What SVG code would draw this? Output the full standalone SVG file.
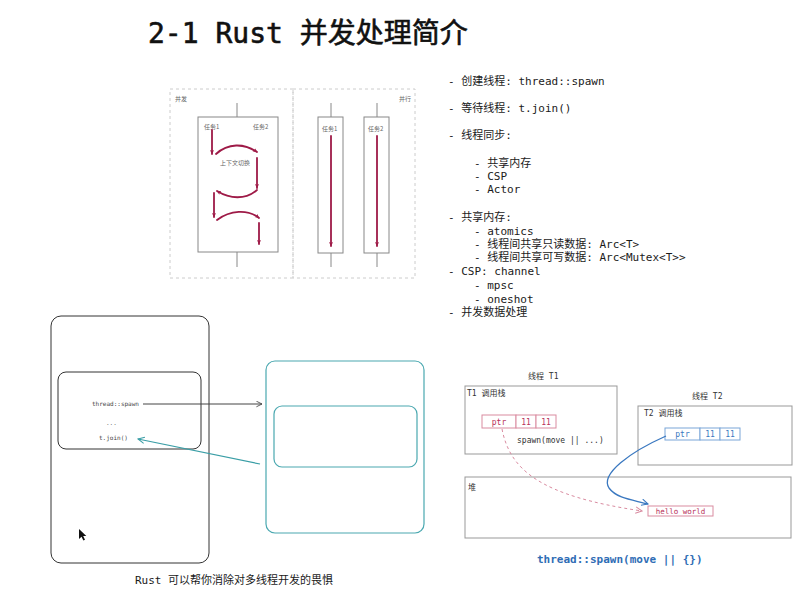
<svg xmlns="http://www.w3.org/2000/svg" width="811" height="603" viewBox="0 0 811 603">
  <defs>
    <marker id="redHead" viewBox="0 0 10 10" refX="8" refY="5" markerWidth="5" markerHeight="5" orient="auto" markerUnits="userSpaceOnUse">
      <path d="M0,1 L9,5 L0,9 L2,5 Z" fill="#9e1a47"/>
    </marker>
    <marker id="grayHead" viewBox="0 0 10 10" refX="9" refY="5" markerWidth="7" markerHeight="7" orient="auto" markerUnits="userSpaceOnUse">
      <path d="M1,1 L9,5 L1,9" fill="none" stroke="#444" stroke-width="1.2"/>
    </marker>
    <marker id="tealHead" viewBox="0 0 10 10" refX="9" refY="5" markerWidth="8" markerHeight="8" orient="auto" markerUnits="userSpaceOnUse">
      <path d="M1,1 L9,5 L1,9" fill="none" stroke="#3a9ea6" stroke-width="1.3"/>
    </marker>
    <marker id="pinkHead" viewBox="0 0 10 10" refX="9" refY="5" markerWidth="8" markerHeight="8" orient="auto" markerUnits="userSpaceOnUse">
      <path d="M1,1 L9,5 L1,9" fill="none" stroke="#d98ba0" stroke-width="1.2"/>
    </marker>
    <marker id="blueHead" viewBox="0 0 10 10" refX="9" refY="5" markerWidth="8" markerHeight="8" orient="auto" markerUnits="userSpaceOnUse">
      <path d="M1,1 L9,5 L1,9" fill="none" stroke="#3a78c0" stroke-width="1.3"/>
    </marker>
  </defs>
  <style>
    .mono { font-family: "DejaVu Sans Mono", "Noto Sans CJK SC", monospace; }
    .sans { font-family: "Noto Sans CJK SC", "Noto Sans", sans-serif; }
    .list { font-size: 11px; fill: #1a1a1a; }
    .tiny { font-size: 6px; fill: #666; }
    .box { fill: none; stroke: #888; stroke-width: 1; }
    .dash { fill: none; stroke: #ccc; stroke-width: 1; stroke-dasharray: 3 3; }
    .red { fill: none; stroke: #9e1a47; stroke-width: 1.8; stroke-linecap: round; }
    .stem { stroke: #888; stroke-width: 1; }
    .frame { fill: none; stroke: #333; stroke-width: 1; }
    .teal { fill: none; stroke: #4aa8b0; stroke-width: 1.2; }
    .gbox { fill: none; stroke: #999; stroke-width: 1; }
    .pcell { fill: #fff; stroke: #d98ba0; stroke-width: 1; }
    .bcell { fill: #fff; stroke: #7aa6d8; stroke-width: 1; }
    .small { font-size: 8px; fill: #333; }
  </style>

  <rect width="811" height="603" fill="#fff"/>

  <!-- title -->
  <text class="mono" x="148" y="43" font-size="28" fill="#111" stroke="#111" stroke-width="0.6">2-1 Rust 并发处理简介</text>

  <!-- concurrency vs parallelism sketch -->
  <g id="concurrency-sketch">
    <rect class="dash" x="170" y="89" width="123" height="189"/>
    <rect class="dash" x="293" y="89" width="122" height="189"/>
    <text class="sans tiny" x="175" y="101">并发</text>
    <text class="sans tiny" x="399" y="101">并行</text>

    <line class="stem" x1="237" y1="103" x2="237" y2="117"/>
    <line class="stem" x1="237" y1="252" x2="237" y2="267"/>
    <rect class="box" x="198" y="117" width="80" height="135"/>
    <text class="sans tiny" x="204" y="129">任务1</text>
    <text class="sans tiny" x="253" y="129">任务2</text>
    <text class="sans tiny" x="220" y="165">上下文切换</text>
    <path class="red" d="M212,130 L212,154" marker-end="url(#redHead)"/>
    <path class="red" d="M216,154 C228,143 244,143 257,152" marker-end="url(#redHead)"/>
    <path class="red" d="M257,158 L257,188" marker-end="url(#redHead)"/>
    <path class="red" d="M257,190 C245,200 230,199 217,191" marker-end="url(#redHead)"/>
    <path class="red" d="M214,193 L214,217" marker-end="url(#redHead)"/>
    <path class="red" d="M217,220 C230,210 248,209 259,218" marker-end="url(#redHead)"/>
    <path class="red" d="M259,223 L259,244" marker-end="url(#redHead)"/>

    <line class="stem" x1="331" y1="103" x2="331" y2="117"/>
    <line class="stem" x1="331" y1="253" x2="331" y2="267"/>
    <rect class="box" x="318" y="117" width="25" height="136"/>
    <text class="sans tiny" x="322" y="131">任务1</text>
    <path class="red" d="M331,136 L331,246" marker-end="url(#redHead)"/>

    <line class="stem" x1="377" y1="103" x2="377" y2="117"/>
    <line class="stem" x1="377" y1="253" x2="377" y2="267"/>
    <rect class="box" x="364" y="117" width="25" height="136"/>
    <text class="sans tiny" x="368" y="131">任务2</text>
    <path class="red" d="M377,136 L377,246" marker-end="url(#redHead)"/>
  </g>

  <!-- bullet list -->
  <g id="topics" class="mono list">
    <text x="448" y="85">- 创建线程: thread::spawn</text>
    <text x="448" y="112">- 等待线程: t.join()</text>
    <text x="448" y="139">- 线程同步:</text>
    <text x="474" y="167">- 共享内存</text>
    <text x="474" y="180">- CSP</text>
    <text x="474" y="193">- Actor</text>
    <text x="448" y="221">- 共享内存:</text>
    <text x="474" y="235">- atomics</text>
    <text x="474" y="248">- 线程间共享只读数据: Arc&lt;T&gt;</text>
    <text x="474" y="261">- 线程间共享可写数据: Arc&lt;Mutex&lt;T&gt;&gt;</text>
    <text x="448" y="275">- CSP: channel</text>
    <text x="474" y="289">- mpsc</text>
    <text x="474" y="303">- oneshot</text>
    <text x="448" y="316">- 并发数据处理</text>
  </g>

  <!-- main thread -->
  <g id="main-thread">
    <rect class="frame" x="51" y="316" width="158" height="247" rx="10"/>
    <rect class="frame" x="58" y="372" width="143" height="77" rx="8" stroke="#444"/>
    <text class="mono" x="92" y="406" font-size="6" fill="#444">thread::spawn</text>
    <text class="mono" x="106" y="425" font-size="6" fill="#666">...</text>
    <text class="mono" x="99" y="440" font-size="6" fill="#444">t.join()</text>
  </g>

  <!-- spawned thread -->
  <g id="spawned-thread">
    <rect class="teal" x="266" y="361" width="158" height="172" rx="9"/>
    <rect class="teal" x="274" y="406" width="143" height="61" rx="8"/>
  </g>

  <!-- pointer cursor -->
  <path d="M79,529 L79,539 L81.5,536.8 L83.4,540.5 L85,539.7 L83.2,536 L86.3,536 Z" fill="#111"/>

  <text class="mono" x="135" y="584" font-size="11" fill="#1a1a1a">Rust 可以帮你消除对多线程开发的畏惧</text>

  <!-- memory layout -->
  <g id="thread-t1">
    <text class="mono small" x="528" y="379">线程 T1</text>
    <rect class="gbox" x="465" y="386" width="152" height="68"/>
    <text class="mono small" x="467" y="396">T1 调用栈</text>
    <rect class="pcell" x="482" y="415" width="34" height="13"/>
    <rect class="pcell" x="516" y="415" width="20" height="13"/>
    <rect class="pcell" x="536" y="415" width="20" height="13"/>
    <text class="mono" x="499" y="424.5" font-size="8" fill="#b8325a" text-anchor="middle">ptr</text>
    <text class="mono" x="526" y="424.5" font-size="8" fill="#b8325a" text-anchor="middle">11</text>
    <text class="mono" x="546" y="424.5" font-size="8" fill="#b8325a" text-anchor="middle">11</text>
    <text class="mono small" x="517" y="443" fill="#222">spawn(move || ...)</text>
  </g>

  <g id="thread-t2">
    <text class="mono small" x="692" y="399">线程 T2</text>
    <rect class="gbox" x="638" y="406" width="154" height="59"/>
    <text class="mono small" x="644" y="416">T2 调用栈</text>
    <rect class="bcell" x="665" y="428" width="35" height="12"/>
    <rect class="bcell" x="700" y="428" width="20" height="12"/>
    <rect class="bcell" x="720" y="428" width="20" height="12"/>
    <text class="mono" x="682.5" y="437" font-size="8" fill="#3a78c0" text-anchor="middle">ptr</text>
    <text class="mono" x="710" y="437" font-size="8" fill="#3a78c0" text-anchor="middle">11</text>
    <text class="mono" x="730" y="437" font-size="8" fill="#3a78c0" text-anchor="middle">11</text>
  </g>

  <g id="heap">
    <rect class="gbox" x="465" y="477" width="326" height="61"/>
    <text class="mono small" x="468" y="490">堆</text>
    <rect class="pcell" x="648" y="506" width="65" height="10"/>
    <text class="mono" x="680.5" y="514" font-size="7.5" fill="#b8325a" text-anchor="middle">hello world</text>
  </g>

  <text class="mono" x="537" y="563" font-size="11" fill="#2f6db5" font-weight="bold">thread::spawn(move || {})</text>

  <g id="connectors">
    <path d="M143,404 L262,404" fill="none" stroke="#444" stroke-width="1" marker-end="url(#grayHead)"/>
    <path d="M260,464 L138,439" fill="none" stroke="#3a9ea6" stroke-width="1.2" marker-end="url(#tealHead)"/>
    <path d="M502,429 C510,470 540,496 642,511" fill="none" stroke="#d98ba0" stroke-width="1" stroke-dasharray="3 3" marker-end="url(#pinkHead)"/>
    <path d="M666,436 C630,452 600,474 609,488 C617,499 634,500 648,504" fill="none" stroke="#3a78c0" stroke-width="1.3" marker-end="url(#blueHead)"/>
  </g>
</svg>
